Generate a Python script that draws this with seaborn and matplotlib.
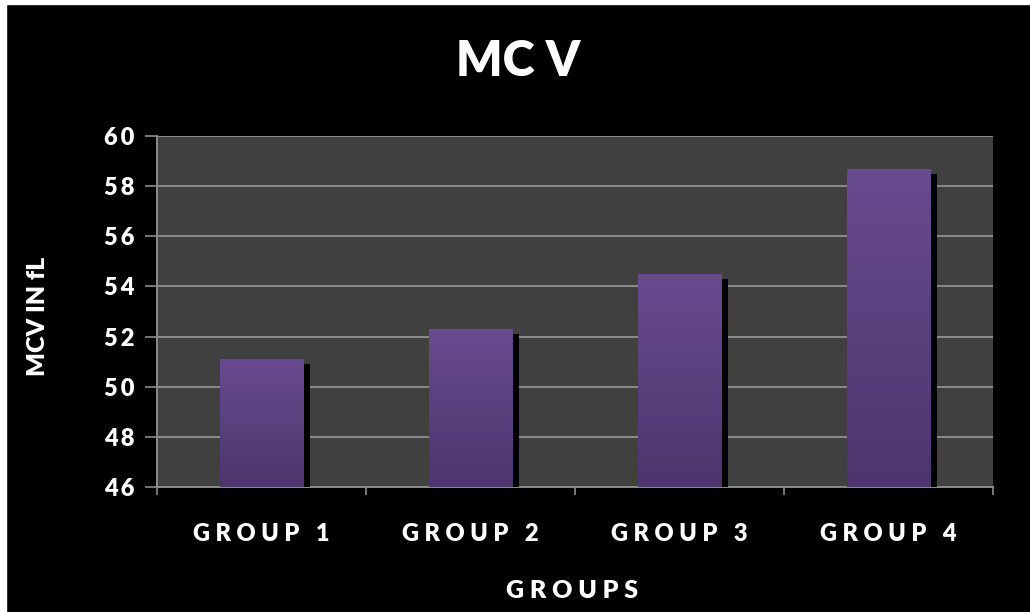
import numpy as np
import pandas as pd
import matplotlib
matplotlib.use("Agg")
import matplotlib.pyplot as plt
import seaborn as sns
from matplotlib import patheffects as pe
from matplotlib.colors import LinearSegmentedColormap
from matplotlib.patches import Rectangle
from matplotlib.ticker import FixedLocator, FuncFormatter

# Mean corpuscular volume per group
groups = ["GROUP 1", "GROUP 2", "GROUP 3", "GROUP 4"]
mcv = [51.1, 52.3, 54.5, 58.7]
y_ticks = [46, 48, 50, 52, 54, 56, 58, 60]

sns.set_theme(style="dark")
plt.rcParams["font.family"] = ["Lato", "DejaVu Sans"]

W, H = 1030, 612
fig = plt.figure(figsize=(W / 100, H / 100), dpi=100, facecolor="black")

# thin white frame on the left and top edges
fig.add_artist(Rectangle((0, 0), 6 / W, 1, transform=fig.transFigure,
                         color="white", zorder=10))
fig.add_artist(Rectangle((0, 1 - 4 / H), 1, 4 / H, transform=fig.transFigure,
                         color="white", zorder=10))

ax = fig.add_axes([157 / W, 1 - 487 / H, (993 - 157) / W, (487 - 136) / H])
ax.set_facecolor("#404040")

df = pd.DataFrame({"group": groups, "mcv": mcv})
sns.barplot(data=df, x="group", y="mcv", ax=ax, width=0.4, color="#5e4484",
            saturation=1, edgecolor="none", linewidth=0, zorder=3)

ax.set_ylim(y_ticks[0], y_ticks[-1])
ax.set_xlim(-0.5, len(groups) - 0.5)

# vertical purple gradient + drop shadow on every bar
grad_cmap = LinearSegmentedColormap.from_list("bar", ["#4d356d", "#684b8f"])
grad = np.linspace(0, 1, 256).reshape(-1, 1)
for patch in ax.patches:
    patch.set_path_effects([
        pe.SimplePatchShadow(offset=(4.5, -3.8), shadow_rgbFace="black", alpha=1.0),
        pe.Normal(),
    ])
    x0 = patch.get_x()
    w = patch.get_width()
    top = patch.get_height()
    im = ax.imshow(grad, cmap=grad_cmap, origin="lower", aspect="auto",
                   extent=[x0, x0 + w, y_ticks[0], top], zorder=4,
                   interpolation="bilinear")
    im.set_clip_path(patch)

ax.set_ylim(y_ticks[0], y_ticks[-1])
ax.set_xlim(-0.5, len(groups) - 0.5)

# grid and axes
ax.yaxis.set_major_locator(FixedLocator(y_ticks))
ax.grid(axis="y", color="#8c8c8c", linewidth=1.4, zorder=1)
ax.grid(axis="x", visible=False)
for side in ["top", "right"]:
    ax.spines[side].set_visible(False)
for side in ["left", "bottom"]:
    ax.spines[side].set_visible(True)
    ax.spines[side].set_color("#8c8c8c")
    ax.spines[side].set_linewidth(1.4)

ax.yaxis.set_major_formatter(FuncFormatter(lambda v, p: "\u2009".join(str(int(v)))))
ax.tick_params(axis="y", which="major", direction="out", length=9, width=1.2,
               color="#8c8c8c", left=True, pad=7, labelsize=17,
               labelcolor="white")
for lab in ax.get_yticklabels():
    lab.set_fontweight("heavy")

ax.set_xticks(range(len(groups)))
ax.set_xticklabels([" ".join(g) for g in groups], fontsize=17,
                   fontweight="heavy", color="white")
ax.set_xticks(np.arange(-0.5, len(groups), 1.0), minor=True)
ax.tick_params(axis="x", which="major", length=0, pad=26)
ax.tick_params(axis="x", which="minor", direction="out", length=6, width=1.2,
               color="#8c8c8c", bottom=True)

ax.set_xlabel("")
ax.set_ylabel("")

fig.text(518 / W, 1 - 62 / H, "MC V", ha="center", va="center",
         fontsize=35, fontweight="heavy", color="white")
fig.text(38 / W, 1 - 316 / H, "MCV IN fL", ha="center", va="center",
         rotation=90, fontsize=18, fontweight="heavy", color="white")
fig.text(572 / W, 1 - 591 / H, " ".join("GROUPS"), ha="center", va="center",
         fontsize=18, fontweight="heavy", color="white")

fig.savefig("out.png", dpi=100, facecolor="black")
